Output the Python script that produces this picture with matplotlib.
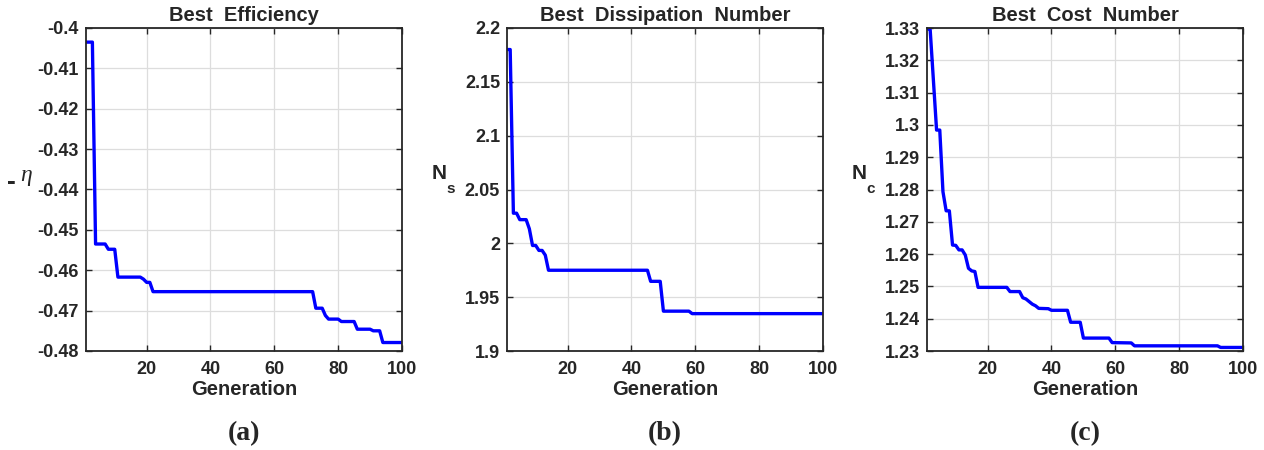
import numpy as np
import matplotlib
matplotlib.use('Agg')
import matplotlib.pyplot as plt
from matplotlib.ticker import FormatStrFormatter

plt.rcParams['font.family'] = ['Liberation Sans', 'DejaVu Sans']
plt.rcParams['font.weight'] = 'bold'

# (a) best efficiency (generation, -eta)
gen_a = [1, 3, 4, 7, 8, 10, 11, 18, 19, 20, 21, 22, 72, 73, 75, 76, 77, 80, 81, 85, 86, 90, 91, 93, 94, 100]
eff_a = [-0.4035, -0.4035, -0.4535, -0.4535, -0.4548, -0.4548, -0.4617, -0.4617, -0.4622, -0.463, -0.463,
         -0.4653, -0.4653, -0.4694, -0.4694, -0.4712, -0.4721, -0.4721, -0.4727, -0.4727, -0.4746, -0.4746,
         -0.475, -0.475, -0.4779, -0.4779]

# (b) best dissipation number
gen_b = [1, 2, 3, 4, 5, 7, 8, 9, 10, 11, 12, 13, 14, 45, 46, 49, 50, 58, 59, 100]
ns_b = [2.180, 2.180, 2.028, 2.028, 2.022, 2.022, 2.0135, 1.998, 1.998, 1.9934, 1.9934, 1.989, 1.975, 1.975,
        1.9647, 1.9647, 1.937, 1.937, 1.9347, 1.9347]

# (c) best cost number
gen_c = [1, 2, 4, 5, 6, 7, 8, 9, 10, 11, 12, 13, 14, 15, 16, 17, 26, 27, 30, 31, 32, 34, 35, 36, 39, 40,
         45, 46, 49, 50, 58, 59, 65, 66, 92, 93, 100]
nc_c = [1.3299, 1.3294, 1.2984, 1.2984, 1.2793, 1.2734, 1.2734, 1.2628, 1.2627, 1.2613, 1.2613, 1.2597,
        1.2556, 1.2548, 1.2546, 1.2497, 1.2497, 1.2484, 1.2484, 1.2465, 1.2461, 1.2445, 1.2440, 1.2432,
        1.2431, 1.2426, 1.2426, 1.2389, 1.2389, 1.2340, 1.2340, 1.2326, 1.2325, 1.2316, 1.2316, 1.2311, 1.2311]

titles = ['Best  Efficiency', 'Best  Dissipation  Number', 'Best  Cost  Number']
captions = ['(a)', '(b)', '(c)']
subs = [None, 's', 'c']
ylims = [(-0.48, -0.4), (1.9, 2.2), (1.23, 1.33)]
ysteps = [0.01, 0.05, 0.01]
xticks = [20, 40, 60, 80, 100]

fig = plt.figure(figsize=(12.64, 4.5), dpi=100)
lefts = [86, 507, 927]
dark = '#262626'
series = [(gen_a, eff_a), (gen_b, ns_b), (gen_c, nc_c)]

for i, (g, v) in enumerate(series):
    ax = fig.add_axes([lefts[i] / 1264, 99 / 450, 316 / 1264, 323 / 450])
    ax.plot(g, v, color=(0, 0, 1), lw=2.4)
    lo, hi = ylims[i]
    ax.set_xlim(1, 100)
    ax.set_ylim(lo, hi)
    ax.set_xticks(xticks)
    ax.set_yticks(np.round(np.arange(lo, hi + ysteps[i] / 2, ysteps[i]), 2))
    ax.yaxis.set_major_formatter(FormatStrFormatter('%g'))
    ax.grid(True, color='#dddddd', lw=0.9)
    ax.tick_params(axis='x', pad=7.5)
    ax.tick_params(direction='in', length=4, width=1, top=True, right=True, labelsize=13,
                   colors=dark)
    ax.tick_params(axis='y', pad=5)
    for sp in ax.spines.values():
        sp.set_color(dark)
        sp.set_linewidth(1.3)
    ax.set_title(titles[i], fontsize=14.5, fontweight='bold', color=dark, pad=5)
    ax.set_xlabel('Generation', fontsize=14.5, fontweight='bold', color=dark, labelpad=1)

    # y labels drawn as text so the pieces sit like in the original
    if subs[i] is None:
        ax.text(-0.237, 0.524, '-', transform=ax.transAxes, ha='center', va='center',
                fontsize=19, fontweight='bold', color=dark)
        ax.text(-0.19, 0.542, '\u03b7', transform=ax.transAxes, ha='center', va='center',
                fontsize=17, family='Liberation Serif', style='italic', fontweight='normal', color=dark)
    else:
        ax.text(-0.215, 0.548, 'N', transform=ax.transAxes, ha='center', va='center',
                fontsize=15, fontweight='bold', color=dark)
        ax.text(-0.178, 0.503, subs[i], transform=ax.transAxes, ha='center', va='center',
                fontsize=11, fontweight='bold', color=dark)

    ax.text(0.5, -0.255, captions[i], transform=ax.transAxes, ha='center', va='center', fontsize=20,
            fontweight='bold', family='Liberation Serif', color=dark)

fig.savefig('out.png', dpi=100, facecolor='white')
